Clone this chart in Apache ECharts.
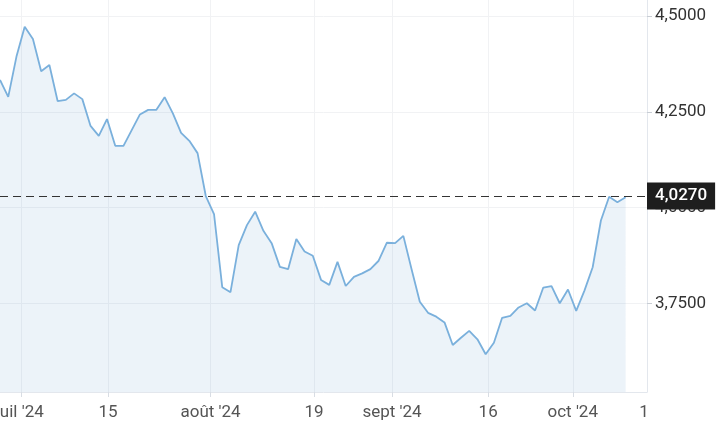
<!DOCTYPE html>
<html><head><meta charset="utf-8">
<script src="https://cdn.jsdelivr.net/npm/echarts@6/dist/echarts.min.js"></script>
<style>html,body{margin:0;padding:0;background:#fff}#c{width:727px;height:436px}</style>
</head><body><div id="c"></div>
<script>
// Daily values (trading days, index 0..76)
const values = [
  4.333, 4.289, 4.394, 4.472, 4.440, 4.356, 4.372, 4.278, 4.281, 4.298,
  4.283, 4.213, 4.187, 4.231, 4.161, 4.161, 4.202, 4.243, 4.255, 4.255,
  4.288, 4.246, 4.195, 4.174, 4.142, 4.030, 3.983, 3.792, 3.779, 3.902,
  3.954, 3.989, 3.939, 3.907, 3.845, 3.839, 3.918, 3.885, 3.874, 3.811,
  3.798, 3.858, 3.795, 3.819, 3.828, 3.839, 3.861, 3.908, 3.907, 3.926,
  3.839, 3.754, 3.725, 3.715, 3.700, 3.641, 3.660, 3.678, 3.656, 3.617,
  3.647, 3.712, 3.717, 3.739, 3.750, 3.731, 3.791, 3.795, 3.750, 3.786,
  3.730, 3.783, 3.844, 3.966, 4.028, 4.014, 4.027
];
// x-axis tick positions (in trading-day index units) and labels
const xTickPositions = [2.64, 13.12, 25.58, 38.15, 47.63, 59.3, 69.58];
const xLabelPositions = [2.4, 13.12, 25.58, 38.15, 47.63, 59.3, 69.58, 78.25];
const xTickLabels = ["juil '24", "15", "août '24", "19", "sept '24", "16", "oct '24", "1"];
const yTickValues = [3.75, 4.0, 4.25, 4.5];
const lastValue = 4.027;

const fmt = v => v.toFixed(4).replace('.', ',');
const seriesData = values.map((v, i) => [i, v]);

const chart = echarts.init(document.getElementById('c'), null, {renderer: 'canvas'});
chart.setOption({
  animation: false,
  backgroundColor: '#ffffff',
  grid: {left: 0, right: 80, top: 0, bottom: 44, containLabel: false, outerBoundsMode: 'none'},
  xAxis: {
    type: 'value',
    min: 0,
    max: 78.6,
    axisLine: {show: true, onZero: false, lineStyle: {color: '#e3e7ed', width: 1}},
    axisTick: {show: true, length: 5, customValues: xTickPositions, lineStyle: {color: '#d8dde4'}},
    splitLine: {show: true, lineStyle: {color: '#f1f2f4', width: 1}},
    axisLabel: {
      customValues: xLabelPositions,
      margin: 12,
      color: '#555',
      fontFamily: 'Roboto',
      fontSize: 17,
      formatter: function (v) {
        let best = 0, d = Infinity;
        xLabelPositions.forEach((p, i) => { if (Math.abs(p - v) < d) { d = Math.abs(p - v); best = i; } });
        return xTickLabels[best];
      }
    }
  },
  yAxis: {
    type: 'value',
    position: 'right',
    min: 3.5183,
    max: 4.5418,
    axisLine: {show: true, onZero: false, lineStyle: {color: '#e3e7ed', width: 1}},
    axisTick: {show: true, length: 5, customValues: yTickValues, lineStyle: {color: '#c8cdd4'}},
    splitLine: {show: true, lineStyle: {color: '#f1f2f4', width: 1}},
    axisLabel: {
      customValues: yTickValues,
      margin: 8,
      color: '#333',
      fontFamily: 'Roboto',
      fontSize: 17,
      formatter: fmt
    }
  },
  series: [{
    type: 'line',
    data: seriesData,
    showSymbol: false,
    symbol: 'none',
    lineStyle: {color: '#7ab0dc', width: 1.8},
    areaStyle: {color: 'rgba(60,130,190,0.14)'},
    markLine: {
      silent: true,
      symbol: 'none',
      lineStyle: {color: '#333', type: [8, 5], width: 1.2},
      label: {
        show: true,
        position: 'end',
        distance: 0,
        formatter: fmt(lastValue),
        backgroundColor: '#1e1e1e',
        color: '#fff',
        fontFamily: 'Roboto',
        fontSize: 17,
        fontWeight: 500,
        padding: [5, 8, 5, 8],
        borderRadius: 0
      },
      data: [{yAxis: lastValue}]
    }
  }]
});
</script>
</body></html>
